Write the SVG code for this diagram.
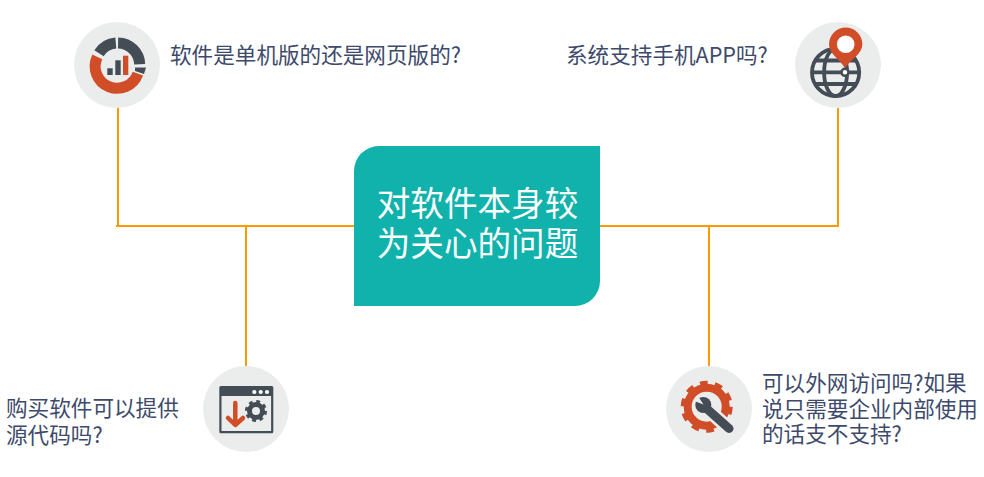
<svg xmlns="http://www.w3.org/2000/svg" width="984" height="477" viewBox="0 0 984 477">
<style>
text{font-family:"Noto Sans CJK SC","Noto Sans",sans-serif}
.l{font-size:21.6px;fill:#3d4a6b}
.c{font-size:33.6px;fill:#fff;text-anchor:middle}
.bg{fill:#ebeded}
.d{fill:#444c56}
.r{fill:#d14d28}
.ds{fill:none;stroke:#444c56}
.rs{fill:none;stroke:#d14d28}
.w{fill:none;stroke:#ff9a00;stroke-width:2}
</style>
<rect width="984" height="477" fill="#fff"/>
<g id="connectors">
<path class="w" d="M118 107V226M116 226H354M246 226V366M600 226H838V107M709 226V366"/>
</g>
<g id="center">
<path fill="#11b2ac" d="M379 146H600V281A25 25 0 0 1 575 306H354V171A25 25 0 0 1 379 146Z"/>
<text class="c" x="477.500" y="216">对软件本身较</text>
<text class="c" x="477.500" y="256">为关心的问题</text>
</g>
<g id="node-top-left">
<circle class="bg" cx="117" cy="65" r="43"/>
<g fill="none" stroke-width="11">
<path class="ds" d="M99 53.300A22 22 0 0 1 115.800 43.100"/>
<path class="ds" d="M118.100 43A22 22 0 0 1 139.700 64.200"/>
<path class="rs" d="M137.900 73.600A22 22 0 1 1 97.300 56.800"/>
</g>
<path class="d" d="M135 67.500H146L144 74L135 71Z"/>
<rect class="d" x="107.300" y="68.300" width="5.400" height="6.700"/>
<rect class="d" x="115.300" y="60.300" width="5.400" height="14.700"/>
<rect class="r" x="123" y="55.700" width="5.300" height="19.300"/>
<text class="l" x="170" y="63">软件是单机版的还是网页版的?</text>
</g>
<g id="node-top-right">
<circle class="bg" cx="838" cy="65" r="43"/>
<g class="ds" stroke-width="3.800">
<circle cx="835.600" cy="72.400" r="23.600"/>
<ellipse cx="835.600" cy="72.400" rx="11.500" ry="23.600"/>
<path d="M812.500 72.400H859M816 60.500H855.500M816 84H855.500"/>
</g>
<circle cx="845" cy="72.300" r="3.500" fill="#fff" stroke="#444c56" stroke-width="2.500"/>
<path class="r" d="M845 68.300C840.500 60 829 54 829 44.300A16.700 16.700 0 0 1 862.400 44.300C862.400 54 850 60 845 68.300Z"/>
<circle cx="845.700" cy="44.300" r="8.800" fill="#fff"/>
<text class="l" x="566" y="63">系统支持手机APP吗?</text>
</g>
<g id="node-bottom-left">
<circle class="bg" cx="246" cy="409" r="43"/>
<rect class="d" x="219.300" y="386" width="54" height="47.300" rx="1.500"/>
<rect class="bg" x="221.500" y="396" width="49.600" height="35"/>
<g fill="#fff">
<circle cx="254.300" cy="392" r="2.100"/>
<circle cx="260.700" cy="392" r="2.100"/>
<circle cx="267" cy="392" r="2.100"/>
</g>
<path fill="none" stroke="#d14d28" stroke-width="4.500" stroke-linecap="round" stroke-linejoin="round" d="M235.300 403V423M228 418L235.300 425L243 418"/>
<circle class="ds" cx="256" cy="411" r="6.500" stroke-width="5"/>
<circle class="ds" cx="256" cy="411" r="9.200" stroke-width="3.600" stroke-dasharray="3.600 3.625"/>
<text class="l"><tspan x="6" y="416">购买软件可以提供</tspan><tspan x="6" y="443">源代码吗?</tspan></text>
</g>
<g id="node-bottom-right">
<circle class="bg" cx="709" cy="409" r="43"/>
<circle class="rs" cx="706.700" cy="406.700" r="19" stroke-width="8"/>
<circle class="rs" cx="706.700" cy="406.700" r="24" stroke-width="4" stroke-dasharray="7.800 7.280"/>
<path fill="none" stroke="#ebeded" stroke-width="14" stroke-linecap="round" d="M706 408L729 428.500"/>
<circle cx="703.300" cy="405" r="10.500" class="bg"/>
<circle cx="703.300" cy="405" r="8" class="d"/>
<path fill="none" stroke="#444c56" stroke-width="9" stroke-linecap="round" d="M706 408L729 428.500"/>
<path class="bg" d="M703.500 404.500L698 396L694 401Z"/>
<text class="l"><tspan x="762" y="391">可以外网访问吗?如果</tspan><tspan x="762" y="417">说只需要企业内部使用</tspan><tspan x="762" y="442">的话支不支持?</tspan></text>
</g>
</svg>
